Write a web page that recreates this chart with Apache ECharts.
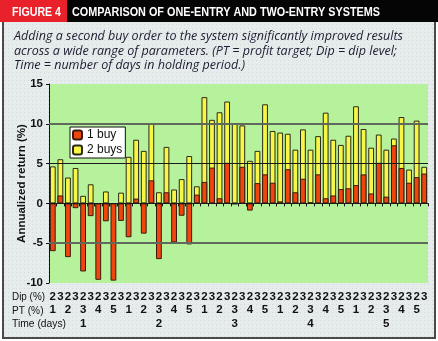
<!DOCTYPE html>
<html><head><meta charset="utf-8">
<script src="https://cdn.jsdelivr.net/npm/echarts@6/dist/echarts.min.js"></script>
<style>html,body{margin:0;padding:0;background:#fff}#c{width:438px;height:341px}</style>
</head><body><div id="c"></div>
<script>
// ---- data ----
const dipLabels = ['2','3','2','3','2','3','2','3','2','3','2','3','2','3','2','3','2','3','2','3','2','3','2','3','2','3','2','3','2','3','2','3','2','3','2','3','2','3','2','3','2','3','2','3','2','3','2','3','2','3'];
const ptLabels  = ['1','','2','','3','','4','','5','','1','','2','','3','','4','','5','','1','','2','','3','','4','','5','','1','','2','','3','','4','','5','','1','','2','','3','','4','','5',''];
const timeLabels= ['','','','','1','','','','','','','','','','2','','','','','','','','','','3','','','','','','','','','','4','','','','','','','','','','5','','','','',''];
const oneBuy = [-6.0, 1.0, -6.75, -0.6, -8.55, -1.6, -9.6, -2.25, -9.7, -2.2, -4.25, 0.6,
  -3.8, 2.9, -7.0, 1.4, -4.9, -1.55, -5.15, 1.1, 2.7, 4.5, 0.65, 5.1,
  -0.1, 4.6, -0.9, 2.55, 3.65, 2.6, 0.25, 4.3, 1.4, 3.1, 0.1, 3.65, 0.65,
  1.0, 1.8, 1.9, 2.3, 3.65, 1.25, 5.1, 0.85, 7.3, 4.45, 2.6, 3.3, 3.75];
const twoBuys = [4.65, 5.55, 3.25, 4.45, 0.95, 2.4, -0.5, 1.5, -0.5, 1.35, 5.85, 8.0,
  6.6, 10.1, 1.4, 7.1, 1.75, 3.05, 5.95, 2.15, 13.35, 10.5, 11.45, 12.8,
  10.0, 9.8, 5.35, 6.6, 12.45, 9.1, 8.9, 8.75, 6.75, 9.3, 6.75, 8.45, 11.4,
  8.0, 7.35, 8.5, 12.2, 9.35, 7.0, 8.65, 6.75, 8.15, 10.85, 4.25, 10.4, 4.6];
const seriesNames = ['1 buy', '2 buys'];
const yTicks = {min: -10, max: 15, step: 5};
const heavyGridValues = [10, -5];
const lightGridValues = [5, 0];
const rowLabels = ['Dip (%)', 'PT (%)', 'Time (days)'];
const figureTag = 'FIGURE 4';
const titleText = 'COMPARISON OF ONE-ENTRY AND TWO-ENTRY SYSTEMS';
const subtitleLines = [
  'Adding a second buy order to the system significantly improved results',
  'across a wide range of parameters. (PT = profit target; Dip = dip level;',
  'Time = number of days in holding period.)'
];
const yAxisName = 'Annualized return (%)';

// ---- helpers ----
const categories = dipLabels.map((d, i) => d + '\n' + ptLabels[i] + '\n' + timeLabels[i]);
const mctx = document.createElement('canvas').getContext('2d');
function fit(text, font, target) { mctx.font = font; return target / mctx.measureText(text).width; }

// dotted background tile
const tile = document.createElement('canvas');
tile.width = 4; tile.height = 4;
const tctx = tile.getContext('2d');
tctx.fillStyle = '#e6ecec'; tctx.fillRect(0, 0, 4, 4);
tctx.fillStyle = '#d2dada'; tctx.fillRect(0, 0, 1, 1);

const F = '"Liberation Sans", Arial, sans-serif';
const titleFont = 'bold 13px ' + F;
const subFont = 'italic 12.5px "Open Sans", sans-serif';
const rowFont = '11.5px ' + F;
const subTargets = [389, 383, 231];
const rowTargets = [33, 31.5, 54];

const graphics = [
  {type:'rect', z:-10, shape:{x:3, y:20, width:432, height:318}, style:{fill:{image: tile, repeat:'repeat'}, stroke:'#4a4a4a', lineWidth:2}},
  {type:'rect', z:-9, shape:{x:0, y:0, width:438, height:22}, style:{fill:'#050505'}},
  {type:'rect', z:-8, shape:{x:0, y:0, width:67, height:22}, style:{fill:'#e8212b'}},
  {type:'text', x:12, y:12, scaleX: fit(figureTag, titleFont, 49), style:{text:figureTag, font:titleFont, fill:'#fff', verticalAlign:'middle', align:'left'}},
  {type:'text', x:72, y:12, scaleX: fit(titleText, titleFont, 308), style:{text:titleText, font:titleFont, fill:'#fff', verticalAlign:'middle', align:'left'}}
];
subtitleLines.forEach((t, i) => {
  graphics.push({type:'text', x:14, y:36.5 + i*14.7, scaleX: fit(t, subFont, subTargets[i]),
    style:{text:t, font:subFont, fill:'#1b1b30', verticalAlign:'middle', align:'left'}});
});
rowLabels.forEach((t, i) => {
  graphics.push({type:'text', x:12, y:297 + i*13.5, scaleX: fit(t, rowFont, rowTargets[i]),
    style:{text:t, font:rowFont, fill:'#111', verticalAlign:'middle', align:'left'}});
});

const barBase = {type:'bar', barWidth: 5.8, barGap:'-100%'};
const chart = echarts.init(document.getElementById('c'), null, {renderer:'canvas'});
chart.setOption({
  backgroundColor:'#ffffff',
  animation:false,
  graphic: graphics,
  legend: {
    data: seriesNames, orient:'vertical', left:70, top:127,
    backgroundColor:'#ffffff', borderColor:'#111', borderWidth:1,
    padding:[2,3,2,2], itemGap:3, itemWidth:9, itemHeight:9,
    textStyle:{fontFamily:F, fontSize:12, color:'#111'}
  },
  grid: {left:49, top:84, width:379, height:199, show:true, backgroundColor:'#b6f29b', borderWidth:0,
         containLabel:false, outerBoundsMode:'none'},
  xAxis: {
    type:'category', data: categories, boundaryGap:true,
    axisLine:{show:true, lineStyle:{color:'#111', width:1}},
    axisTick:{show:true, length:3, interval:0, lineStyle:{color:'#111'}},
    axisLabel:{interval:0, margin:7, fontFamily:F, fontWeight:'bold', fontSize:11.5, lineHeight:13.5, color:'#111'},
    splitLine:{show:false}
  },
  yAxis: {
    type:'value', min:yTicks.min, max:yTicks.max, interval:yTicks.step,
    name: yAxisName, nameLocation:'middle', nameGap:21, nameMoveOverlap:false,
    nameTextStyle:{fontFamily:F, fontWeight:'bold', fontSize:11.5, color:'#111'},
    axisLine:{show:true, lineStyle:{color:'#111', width:1}},
    axisTick:{show:true, length:3, lineStyle:{color:'#111'}},
    axisLabel:{margin:6, fontFamily:F, fontWeight:'bold', fontSize:11.5, color:'#111'},
    splitLine:{show:false}
  },
  series: [
    {type:'line', z:1, data:[], silent:true,
     markLine:{silent:true, symbol:'none', label:{show:false}, animation:false,
       data: heavyGridValues.map(v => ({yAxis:v, lineStyle:{color:'#5f6a5c', width:2, type:'solid'}}))
        .concat(lightGridValues.map(v => ({yAxis:v, lineStyle:{color:'#1a1a1a', width:1, type:'solid'}})))}},
    Object.assign({}, barBase, {name:seriesNames[1], z:3, data: twoBuys,
      itemStyle:{color:'#f7f545', borderColor:'#2a2a1a', borderWidth:1}}),
    Object.assign({}, barBase, {name:seriesNames[0], z:4, data: oneBuy,
      itemStyle:{color:'#f0460e', borderColor:'#3a1a10', borderWidth:1}})
  ]
});
</script></body></html>
